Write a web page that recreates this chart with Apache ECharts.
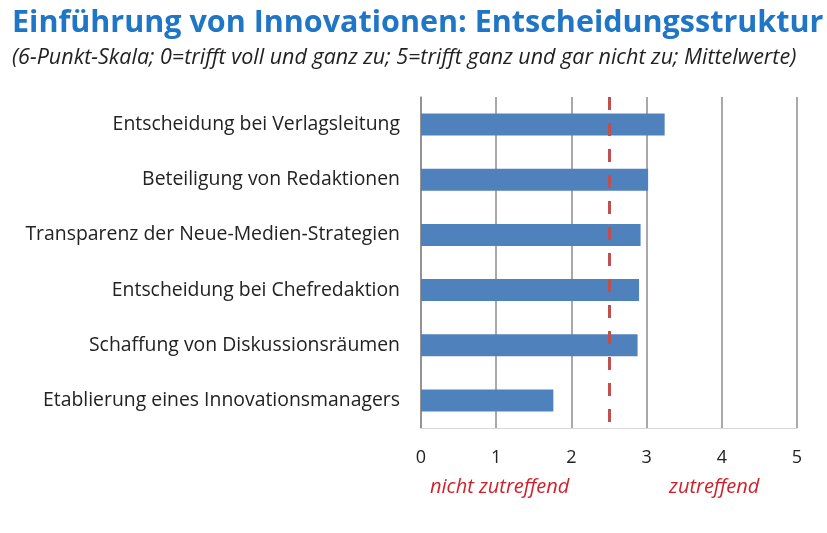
<!DOCTYPE html>
<html>
<head>
<meta charset="utf-8">
<script src="https://cdn.jsdelivr.net/npm/echarts@6/dist/echarts.min.js"></script>
<style>
  html, body { margin: 0; padding: 0; background: #fff; }
  #chart { width: 827px; height: 533px; }
</style>
</head>
<body>
<div id="chart"></div>
<script>
// Daten
const categories = [
  'Entscheidung bei Verlagsleitung',
  'Beteiligung von Redaktionen',
  'Transparenz der Neue-Medien-Strategien',
  'Entscheidung bei Chefredaktion',
  'Schaffung von Diskussionsräumen',
  'Etablierung eines Innovationsmanagers'
];
const meanValues = [3.24, 3.02, 2.92, 2.90, 2.88, 1.76];
const xTicks = [0, 1, 2, 3, 4, 5];
const midpoint = 2.5;

const chart = echarts.init(document.getElementById('chart'));

chart.setOption({
  animation: false,
  title: {
    text: 'Einführung von Innovationen: Entscheidungsstruktur',
    subtext: '(6-Punkt-Skala; 0=trifft voll und ganz zu; 5=trifft ganz und gar nicht zu; Mittelwerte)',
    left: 7,
    top: 3,
    itemGap: 8,
    textStyle: {
      fontFamily: 'Open Sans',
      fontWeight: 'bold',
      fontSize: 30.5,
      color: '#1F75C6'
    },
    subtextStyle: {
      fontFamily: 'Open Sans',
      fontStyle: 'italic',
      fontSize: 21.5,
      color: '#222'
    }
  },
  grid: {
    left: 421,
    right: 30,
    top: 97,
    bottom: 105
  },
  xAxis: {
    type: 'value',
    min: 0,
    max: 5,
    interval: 1,
    axisLine: { show: true, lineStyle: { color: '#d8d8d8', width: 1 } },
    axisTick: { show: false },
    axisLabel: {
      margin: 21,
      fontFamily: 'Open Sans',
      fontSize: 18,
      color: '#222',
      formatter: v => xTicks.includes(v) ? String(v) : ''
    },
    splitLine: { show: true, lineStyle: { color: '#8c8c8c', width: 1.5 } }
  },
  yAxis: {
    type: 'category',
    data: categories,
    inverse: true,
    axisLine: { show: true, lineStyle: { color: '#8c8c8c', width: 1.5 } },
    axisTick: { show: false },
    axisLabel: {
      margin: 21,
      fontFamily: 'Open Sans',
      fontSize: 19.4,
      color: '#222'
    }
  },
  series: [{
    type: 'bar',
    data: meanValues,
    barWidth: 22,
    itemStyle: { color: '#4F81BD' },
    markLine: {
      silent: true,
      symbol: 'none',
      label: { show: false },
      lineStyle: { color: '#C0504D', width: 3, type: [13, 13] },
      data: [{ xAxis: midpoint }]
    }
  }],
  graphic: [
    {
      type: 'text',
      left: 430,
      top: 477,
      style: {
        text: 'nicht zutreffend',
        font: 'italic 20px "Open Sans"',
        fill: '#D0202A'
      }
    },
    {
      type: 'text',
      left: 669,
      top: 477,
      style: {
        text: 'zutreffend',
        font: 'italic 20px "Open Sans"',
        fill: '#D0202A'
      }
    }
  ]
});
</script>
</body>
</html>
